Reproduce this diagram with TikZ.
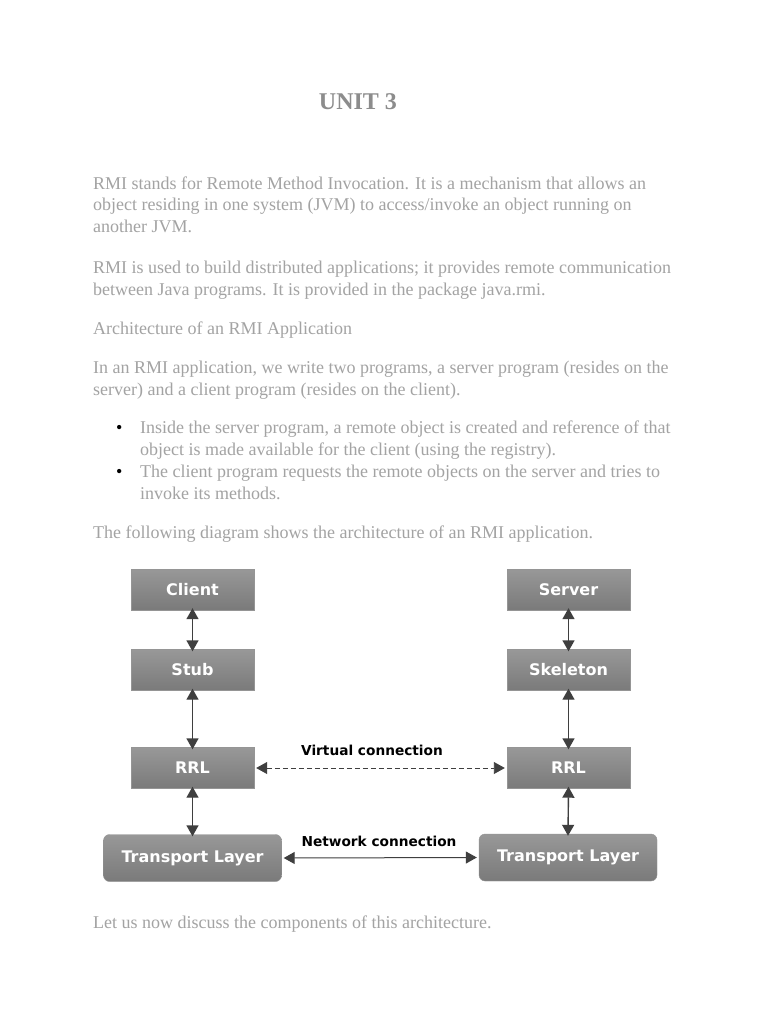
\documentclass[tikz,border=0pt]{standalone}
\usepackage{fontspec}
\setmainfont{Liberation Serif}
\newfontfamily\diagfont{DejaVu Sans}
\usepackage{tikz}
\usetikzlibrary{arrows.meta}

\definecolor{pagetext}{HTML}{A3A3A3}
\definecolor{titletext}{HTML}{8C8C8C}
\definecolor{boxtop}{HTML}{989898}
\definecolor{boxbot}{HTML}{7A7A7A}
\definecolor{linkcol}{HTML}{3F3F3F}

\begin{document}
\begin{tikzpicture}[x=1pt, y=-1pt,
    para/.style={anchor=base west, inner sep=0pt, text=pagetext,
      font=\fontsize{18}{21}\selectfont},
    layer/.style={top color=boxtop, bottom color=boxbot, draw=boxbot!80,
      minimum width=123pt, minimum height=41pt, inner sep=0pt, text=white,
      font=\diagfont\bfseries\fontsize{16}{19}\selectfont},
    tlayer/.style={layer, rounded corners=6pt, minimum width=178pt, minimum height=47pt},
    link/.style={linkcol, line width=1.4pt, {Triangle[length=11pt,width=12pt]}-{Triangle[length=11pt,width=12pt]}},
    linklabel/.style={text=black, inner sep=0pt,
      font=\diagfont\bfseries\fontsize{13.7}{16}\selectfont}]
  % page frame
  \useasboundingbox[fill=white] (0,0) rectangle (768,1024);

  % Title
  \node[anchor=base, text=titletext, font=\bfseries\fontsize{24}{28}\selectfont]
    (title) at (358,110) {UNIT 3};

  % Body text, one node per printed line
  \node[para] (l1) at (93,190) {RMI stands for Remote Method Invocation. It is a mechanism that allows an};
  \node[para] (l2) at (93,211) {object residing in one system (JVM) to access/invoke an object running on};
  \node[para] (l3) at (93,233) {another JVM.};
  \node[para] (l4) at (93,273) {RMI is used to build distributed applications; it provides remote communication};
  \node[para] (l5) at (93,295) {between Java programs. It is provided in the package java.rmi.};
  \node[para] (l6) at (93,334) {Architecture of an RMI Application};
  \node[para] (l7) at (93,373) {In an RMI application, we write two programs, a server program (resides on the};
  \node[para] (l8) at (93,395) {server) and a client program (resides on the client).};

  % Bullet list
  \node[para, text=black] (b1) at (116,433) {\textbullet};
  \node[para] (l9) at (140,433) {Inside the server program, a remote object is created and reference of that};
  \node[para] (l10) at (140,455) {object is made available for the client (using the registry).};
  \node[para, text=black] (b2) at (116,477) {\textbullet};
  \node[para] (l11) at (140,477) {The client program requests the remote objects on the server and tries to};
  \node[para] (l12) at (140,499) {invoke its methods.};

  \node[para] (l13) at (93,538) {The following diagram shows the architecture of an RMI application.};

  % Client side
  \node[layer] (client) at (192.5,589.5) {Client};
  \node[layer] (stub) at (192.5,670) {Stub};
  \node[layer] (rrlL) at (192.5,768) {RRL};
  \node[tlayer] (tlL) at (192.5,858) {Transport Layer};

  % Server side
  \node[layer] (server) at (568.5,589.5) {Server};
  \node[layer] (skel) at (568.5,670) {Skeleton};
  \node[layer] (rrlR) at (568.5,768) {RRL};
  \node[tlayer] (tlR) at (568,857.5) {Transport Layer};

  % Vertical links
  \draw[link] ([yshift=2pt]client.south) -- ([yshift=-2pt]stub.north);
  \draw[link] ([yshift=2pt]stub.south) -- ([yshift=-2pt]rrlL.north);
  \draw[link] ([yshift=2pt]rrlL.south) -- ([yshift=-2pt]tlL.north);
  \draw[link] ([yshift=2pt]server.south) -- ([yshift=-2pt]skel.north);
  \draw[link] ([yshift=2pt]skel.south) -- ([yshift=-2pt]rrlR.north);
  \draw[link] ([yshift=2pt]rrlR.south) -- ([yshift=-2pt]tlR.north);

  % Horizontal links
  \draw[link, line width=0.9pt, dash pattern=on 5pt off 3pt]
    ([xshift=2pt]rrlL.east) -- ([xshift=-2pt]rrlR.west);
  \draw[link, line width=1pt] ([xshift=2pt]tlL.east) -- ([xshift=-2pt]tlR.west);
  \node[linklabel] (virt) at (372,750) {Virtual connection};
  \node[linklabel] (net) at (379,841) {Network connection};

  \node[para] (l14) at (93,928) {Let us now discuss the components of this architecture.};
\end{tikzpicture}
\end{document}
